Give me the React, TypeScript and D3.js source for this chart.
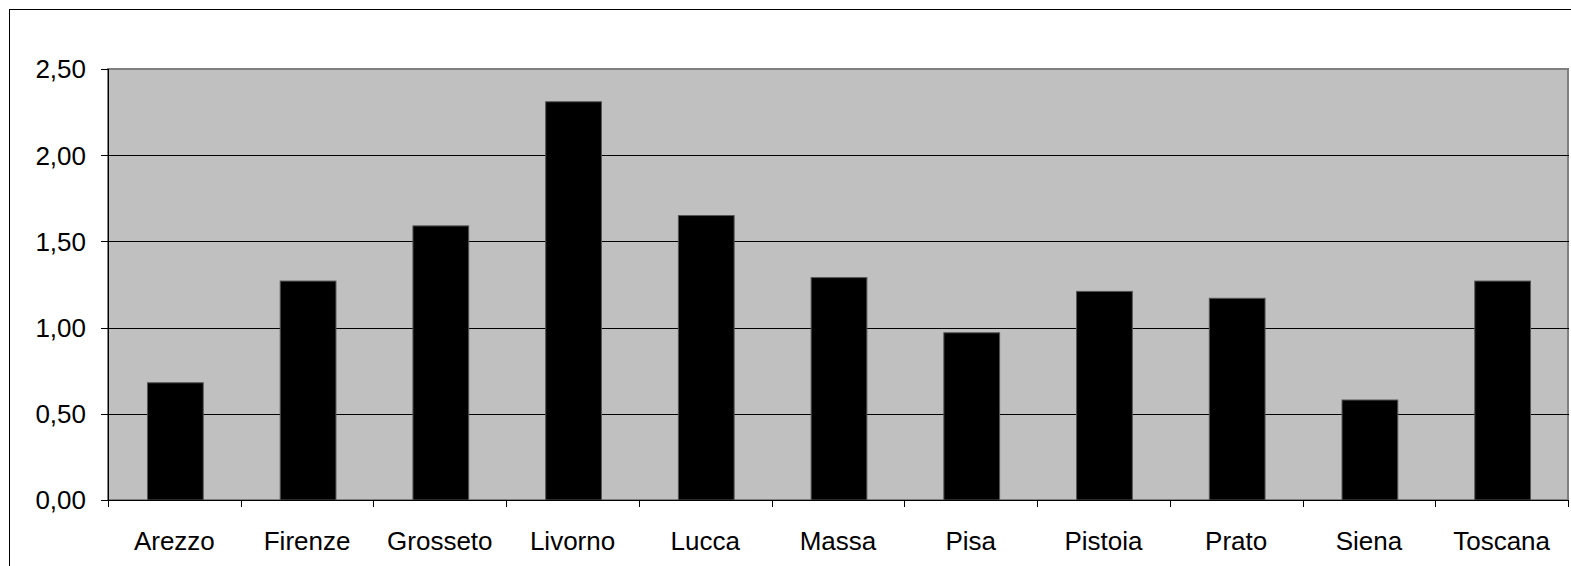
import * as d3 from "d3";

const categories = [
  "Arezzo",
  "Firenze",
  "Grosseto",
  "Livorno",
  "Lucca",
  "Massa",
  "Pisa",
  "Pistoia",
  "Prato",
  "Siena",
  "Toscana",
];
const values = [0.68, 1.27, 1.59, 2.31, 1.65, 1.29, 0.97, 1.21, 1.17, 0.58, 1.27];
const yTicks = [0, 0.5, 1, 1.5, 2, 2.5];

const W = 1571;
const H = 566;
const plot = { left: 108, right: 1568, top: 69, bottom: 500 };
const font = "'Liberation Sans', Arial, sans-serif";
const fontSize = 26;

export default function App() {
  const x = d3
    .scaleBand<string>()
    .domain(categories)
    .range([plot.left, plot.right])
    .paddingInner(0.58)
    .paddingOuter(0.29);
  const y = d3.scaleLinear().domain([0, 2.5]).range([plot.bottom, plot.top]);
  const step = x.step();
  const fmt = (v: number) => v.toFixed(2).replace(".", ",");

  return (
    <svg
      width={W}
      height={H}
      style={{ position: "absolute", left: 0, top: 0, display: "block", background: "#fff" }}
    >
      {/* chart border, right/bottom run off the page */}
      <rect x={9.5} y={9.5} width={1700} height={700} fill="none" stroke="#000" />

      {/* plot area */}
      <rect
        x={plot.left}
        y={plot.top}
        width={plot.right - plot.left}
        height={plot.bottom - plot.top}
        fill="#c0c0c0"
        stroke="#808080"
        strokeWidth={2}
      />

      {/* gridlines */}
      {yTicks.slice(1, -1).map((t) => (
        <line
          key={t}
          x1={plot.left}
          x2={plot.right + 1}
          y1={Math.round(y(t)) + 0.5}
          y2={Math.round(y(t)) + 0.5}
          stroke="#000"
        />
      ))}

      {/* bars */}
      {categories.map((c, i) => (
        <rect
          key={c}
          x={(x(c) ?? 0) + 1}
          y={y(values[i])}
          width={x.bandwidth()}
          height={plot.bottom - y(values[i])}
          fill="#000"
          stroke="#555"
          strokeWidth={1}
        />
      ))}

      {/* y axis */}
      <line x1={plot.left + 0.5} x2={plot.left + 0.5} y1={plot.top} y2={plot.bottom} stroke="#000" />
      {yTicks.map((t) => (
        <g key={t}>
          <line
            x1={plot.left - 7}
            x2={plot.left}
            y1={Math.round(y(t)) + 0.5}
            y2={Math.round(y(t)) + 0.5}
            stroke="#000"
          />
          <text
            x={86}
            y={y(t)}
            dy="0.36em"
            textAnchor="end"
            fontFamily={font}
            fontSize={fontSize}
            fill="#000"
          >
            {fmt(t)}
          </text>
        </g>
      ))}

      {/* x axis */}
      <line x1={plot.left} x2={plot.right} y1={plot.bottom + 0.5} y2={plot.bottom + 0.5} stroke="#000" />
      {d3.range(categories.length + 1).map((i) => {
        const xx = Math.round(plot.left + i * step) + 0.5;
        return (
          <line key={i} x1={xx} x2={xx} y1={plot.bottom} y2={plot.bottom + 7} stroke="#000" />
        );
      })}
      {categories.map((c) => (
        <text
          key={c}
          x={(x(c) ?? 0) + x.bandwidth() / 2}
          y={550}
          textAnchor="middle"
          fontFamily={font}
          fontSize={fontSize}
          fill="#000"
        >
          {c}
        </text>
      ))}
    </svg>
  );
}
